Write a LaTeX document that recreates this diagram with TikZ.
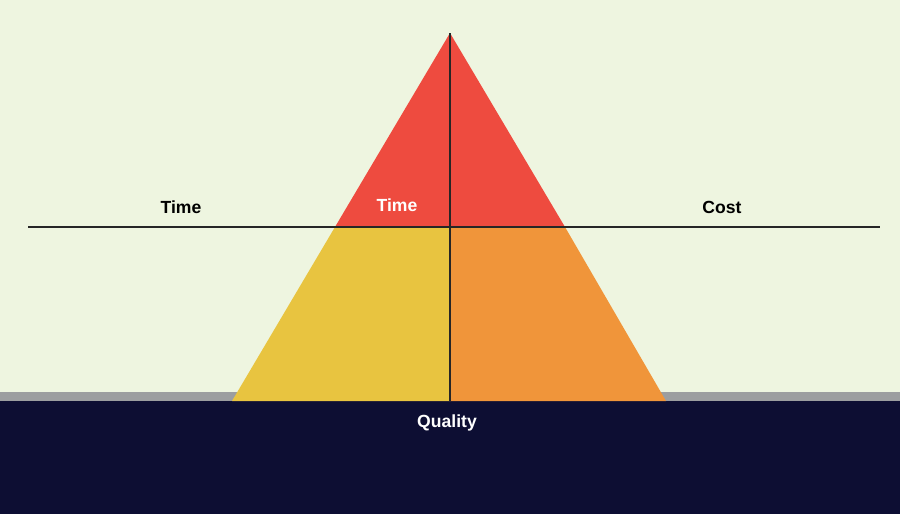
\documentclass[tikz,border=0pt]{standalone}
\usepackage{fontspec}
\setmainfont{Liberation Sans}
\definecolor{bgpaper}{HTML}{EEF5E0}
\definecolor{topred}{HTML}{EE4B3F}
\definecolor{leftyellow}{HTML}{E8C440}
\definecolor{rightorange}{HTML}{F0953A}
\definecolor{groundnavy}{HTML}{0D0E33}
\definecolor{bandgray}{HTML}{9C9EA0}
\tikzstyle{every node}=[font=\bfseries\fontsize{10}{12}\selectfont, inner sep=0pt]
\tikzstyle{axisline}=[draw=black!85, line width=0.7pt]

\begin{document}
\begin{tikzpicture}[x=0.02cm, y=-0.02cm]
    \useasboundingbox (0,0) rectangle (900,514);
    \fill[bgpaper] (0,0) rectangle (900,514);
    \fill[bandgray] (0,392) rectangle (900,401);
    \fill[groundnavy] (0,401) rectangle (900,514);
    \coordinate (apex) at (450,33);
    \coordinate (ml) at (335,227);
    \coordinate (mc) at (450,227);
    \coordinate (mr) at (565,227);
    \coordinate (bl) at (232,401);
    \coordinate (bc) at (450,401);
    \coordinate (br) at (666,401);
    \coordinate (hl) at (28,227);
    \coordinate (hr) at (880,227);
    \fill[topred] (apex) -- (mr) -- (ml) -- cycle;
    \fill[leftyellow] (ml) -- (mc) -- (bc) -- (bl) -- cycle;
    \fill[rightorange] (mc) -- (mr) -- (br) -- (bc) -- cycle;
    \node (t1) at (181,207) {Time};
    \node[text=white] (t2) at (397,205) {Time};
    \node (c1) at (722,207) {Cost};
    \node[text=white] (q1) at (447,423) {Quality};
    \path[axisline]
    (hl) edge (hr)
    (apex) edge (bc)
	;
  \end{tikzpicture}
\end{document}
